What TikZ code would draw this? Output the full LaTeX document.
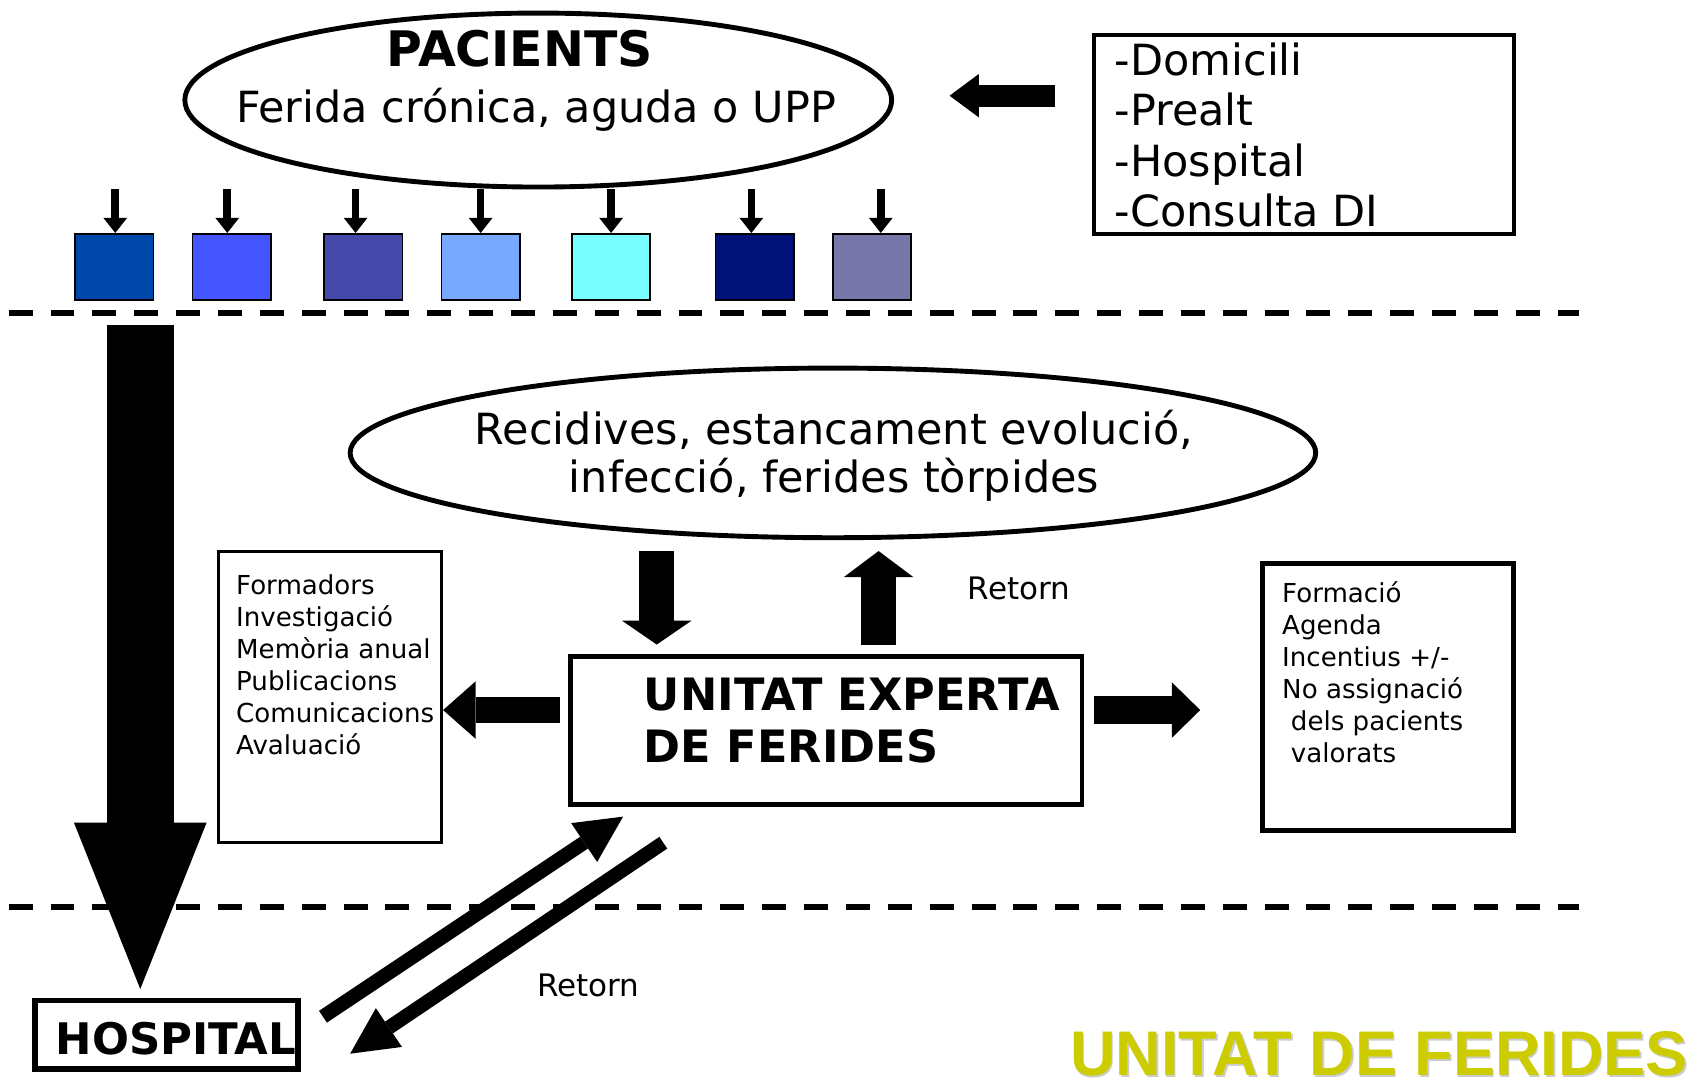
\documentclass[tikz,border=0pt]{standalone}
\usepackage{fontspec}
\setmainfont{DejaVu Sans}
\newfontfamily\brandfont{Liberation Sans}
\usetikzlibrary{shapes.geometric,arrows.meta}

\definecolor{blueA}{HTML}{0047AB}
\definecolor{blueB}{HTML}{4455FF}
\definecolor{blueC}{HTML}{4449AA}
\definecolor{blueD}{HTML}{77AAFF}
\definecolor{blueE}{HTML}{77FFFF}
\definecolor{blueF}{HTML}{001177}
\definecolor{blueG}{HTML}{7777AA}
\definecolor{brand}{HTML}{CCCC00}

\begin{document}
\begin{tikzpicture}[x=1pt, y=-1pt,
    oval/.style = {draw, ellipse, line width=4.5pt, inner sep=0pt},
    box/.style = {draw, line width=#1, inner sep=0pt},
    sq/.style = {draw, line width=1.5pt, fill=#1, minimum width=72pt, minimum height=61pt, inner sep=0pt},
    pin/.style = {line width=7pt, -{Triangle[line width=0pt, length=14pt, width=22pt]}},
    fat/.style n args = {3}{line width=#1, -{Triangle[line width=0pt, length=#2, width=#3]}},
    sep/.style = {line width=6pt, dash pattern=on 22pt off 16.5pt},
    big/.style = {font=\fontsize{39.5}{46.4}\selectfont, inner sep=0pt},
    head/.style = {font=\fontsize{41}{48}\selectfont\bfseries, inner sep=0pt},
    small/.style = {font=\fontsize{24}{29.4}\selectfont, inner sep=0pt},
    note/.style = {font=\fontsize{28.5}{28.5}\selectfont, inner sep=0pt},
    brandtxt/.style = {font=\brandfont\fontsize{58}{58}\selectfont\bfseries, text=#1, inner sep=0pt, text depth=0pt, anchor=base west}]
  \useasboundingbox (0,0) rectangle (1568,997);

  % pacients
  \node[oval, minimum width=650pt, minimum height=160pt] (pac) at (495,92) {};
  \node[font=\fontsize{45}{45}\selectfont\bfseries, inner sep=0pt, anchor=base] (pactitle) at (478,61) {PACIENTS};
  \node[big, anchor=base] (pactext) at (493,113) {Ferida crónica, aguda o UPP};

  \node[box=3.5pt, minimum width=386pt, minimum height=183pt] (loc) at (1199,123.5) {};
  \node[big, anchor=north west, align=left] (loctext) at (1025,39) {-Domicili\\-Prealt\\-Hospital\\-Consulta DI};
  \draw[fat={20pt}{27pt}{40pt}, shorten <=34pt, shorten >=51pt] ([yshift=4pt]loc.west |- pac.east) -- ([yshift=4pt]pac.east);

  % tipus de ferida
  \node[sq=blueA] (s1) at (105,245.5) {};
  \node[sq=blueB] (s2) at (213,245.5) {};
  \node[sq=blueC] (s3) at (334,245.5) {};
  \node[sq=blueD] (s4) at (442,245.5) {};
  \node[sq=blueE] (s5) at (562,245.5) {};
  \node[sq=blueF] (s6) at (694,245.5) {};
  \node[sq=blueG] (s7) at (802,245.5) {};
  \draw[pin] ([xshift=1pt]s1.north |- pac.south) -- ([xshift=1pt]s1.north);
  \draw[pin] ([xshift=-4pt]s2.north |- pac.south) -- ([xshift=-4pt]s2.north);
  \draw[pin] ([xshift=-7pt]s3.north |- pac.south) -- ([xshift=-7pt]s3.north);
  \draw[pin] (s4.north |- pac.south) -- (s4.north);
  \draw[pin] (s5.north |- pac.south) -- (s5.north);
  \draw[pin] ([xshift=-3pt]s6.north |- pac.south) -- ([xshift=-3pt]s6.north);
  \draw[pin] ([xshift=8pt]s7.north |- pac.south) -- ([xshift=8pt]s7.north);

  \draw[sep] (8,288) -- (1452,288);
  \draw[sep] (8,834) -- (1452,834);

  % unitat experta
  \node[oval, minimum width=888pt, minimum height=156pt] (rec) at (766,416.5) {};
  \node[big, anchor=base] (rec1) at (767,409) {Recidives, estancament evolució,};
  \node[big, anchor=base] (rec2) at (767,453) {infecció, ferides tòrpides};

  \node[box=4.5pt, minimum width=470pt, minimum height=136pt] (uef) at (760,672) {};
  \node[head, anchor=base west] (uef1) at (592,653) {UNITAT EXPERTA};
  \node[head, anchor=base west] (uef2) at (592,701) {DE FERIDES};

  \draw[fat={32pt}{22pt}{64pt}, shorten <=10pt, shorten >=9pt] ([xshift=-162pt]rec.south) -- ([xshift=-156pt]uef.north);
  \draw[fat={32pt}{24pt}{64pt}, shorten <=9pt, shorten >=10pt] ([xshift=48pt]uef.north) -- ([xshift=42pt]rec.south);
  \node[note, anchor=base west] (ret1) at (890,551) {Retorn};

  \node[box=3pt, minimum width=205pt, minimum height=268pt] (form) at (303.5,641) {};
  \node[small, anchor=north west, align=left] (formtext) at (217,528) {Formadors\\Investigació\\Memòria anual\\Publicacions\\Comunicacions\\Avaluació};
  \draw[fat={24pt}{30pt}{53pt}, shorten <=8pt] ([yshift=19pt]uef.west) -- ([yshift=19pt]uef.west -| form.east);

  \node[box=4.5pt, minimum width=231pt, minimum height=246pt] (agen) at (1276.5,641) {};
  \node[small, anchor=north west, align=left] (agentext) at (1179,535) {Formació\\Agenda\\Incentius +/-\\No assignació\\\hspace*{8pt}dels pacients\\\hspace*{8pt}valorats};
  \draw[fat={25pt}{26pt}{51pt}, shorten <=9pt, shorten >=55pt] ([yshift=19pt]uef.east) -- ([yshift=19pt]uef.east -| agen.west);

  % hospital
  \node[box=5pt, minimum width=242pt, minimum height=63pt] (hosp) at (153,951.5) {};
  \node[font=\fontsize{40}{40}\selectfont\bfseries, inner sep=0pt, anchor=base west] (hosptext) at (51,970) {HOSPITAL};
  \coordinate (hin) at (129,299);
  \draw[fat={62pt}{153pt}{122pt}, shorten >=8pt] (hin) -- (hin |- hosp.north);

  \coordinate (ha) at (297,935);
  \coordinate (ua) at (573,751);
  \coordinate (ub) at (610,775);
  \coordinate (hb) at (322,969);
  \draw[fat={13pt}{43pt}{43pt}] (ha) -- (ua);
  \draw[fat={13pt}{43pt}{43pt}] (ub) -- (hb);
  \node[note, anchor=base west] (ret2) at (494,916) {Retorn};

  \node[brandtxt=black!20] (brandshadow) at (985.5,990.5) {UNITAT DE FERIDES};
  \node[brandtxt=brand] (brandtext) at (984,989) {UNITAT DE FERIDES};
\end{tikzpicture}
\end{document}
